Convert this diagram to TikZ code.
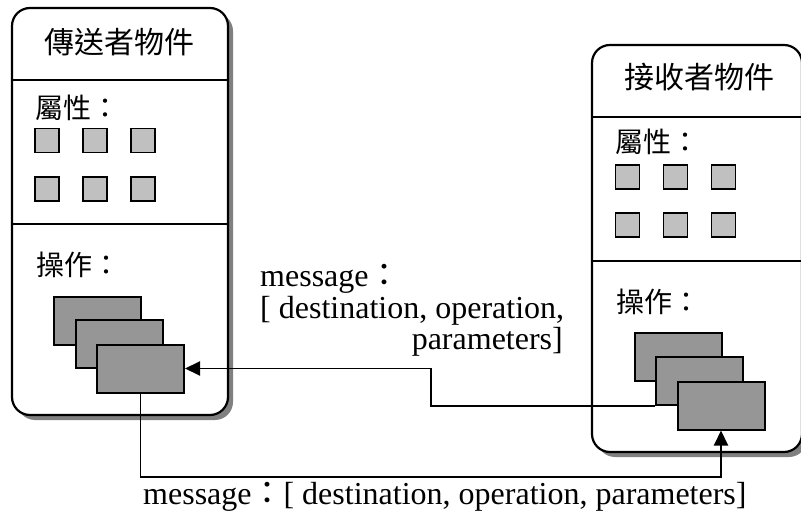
\documentclass[tikz,border=0pt]{standalone}
\usepackage{fontspec}
\setmainfont{Liberation Serif}
\newfontfamily\cjk{Noto Sans CJK TC}
\usetikzlibrary{arrows.meta,shadows}
\definecolor{attrgray}{HTML}{C0C0C0}
\definecolor{opgray}{HTML}{969696}
\definecolor{shadowgray}{HTML}{808080}
\tikzset{
  objbox/.style={draw, line width=2.2pt, rounded corners=18pt, fill=white, inner sep=0,
    general shadow={fill=shadowgray, shadow xshift=5pt, shadow yshift=-5pt}},
  divider/.style={line width=2pt},
  attr/.style={draw, line width=1.5pt, fill=attrgray, minimum size=24pt, inner sep=0},
  opbox/.style={draw, line width=2pt, fill=opgray, minimum width=87pt, minimum height=48pt, inner sep=0},
  conn/.style={line width=1.9pt, -{Triangle[length=15pt,width=14pt]}},
  lbl/.style={inner sep=0, font=\fontsize{32}{38}\selectfont},
  cjktitle/.style={inner sep=0, font=\cjk\fontsize{30}{36}\selectfont},
  cjklbl/.style={inner sep=0, font=\cjk\fontsize{28}{34}\selectfont}
}
\begin{document}
\begin{tikzpicture}[x=1pt,y=-1pt]
\useasboundingbox (0,0) rectangle (801,513);
% sender object
\node[objbox, minimum width=216pt, minimum height=407pt] (L) at (120,211.5) {};
\coordinate (dl1) at (0,80);
\coordinate (dl2) at (0,224);
\draw[divider] (L.west |- dl1) -- (L.east |- dl1);
\draw[divider] (L.west |- dl2) -- (L.east |- dl2);
\node[cjktitle] (Lt) at (120,42) {傳送者物件};
\node[cjklbl, anchor=west] (La) at (35,108) {屬性：};
\node[cjklbl, anchor=west] (Lo) at (36,265) {操作：};
\node[attr] (La1) at (47,140.5) {};
\node[attr] (La2) at (95,140.5) {};
\node[attr] (La3) at (143,140.5) {};
\node[attr] (La4) at (47,189) {};
\node[attr] (La5) at (95,189) {};
\node[attr] (La6) at (143,189) {};
\node[opbox] (lL1) at (97.5,321) {};
\node[opbox] (lL2) at (119,344) {};
\node[opbox] (lL3) at (140.5,368.5) {};
% receiver object
\node[objbox, minimum width=210pt, minimum height=407pt] (R) at (697,248.5) {};
\coordinate (dr1) at (0,117);
\coordinate (dr2) at (0,261);
\draw[divider] (R.west |- dr1) -- (R.east |- dr1);
\draw[divider] (R.west |- dr2) -- (R.east |- dr2);
\node[cjktitle] (Rt) at (699,77) {接收者物件};
\node[cjklbl, anchor=west] (Ra) at (615,142) {屬性：};
\node[cjklbl, anchor=west] (Ro) at (616,302) {操作：};
\node[attr] (Ra1) at (627.5,177) {};
\node[attr] (Ra2) at (675.5,177) {};
\node[attr] (Ra3) at (723.5,177) {};
\node[attr] (Ra4) at (627.5,225) {};
\node[attr] (Ra5) at (675.5,225) {};
\node[attr] (Ra6) at (723.5,225) {};
\node[opbox] (rR1) at (678,357) {};
\node[opbox] (rR2) at (699.5,381) {};
\node[opbox] (rR3) at (721,405.5) {};
% connectors
\coordinate (k1) at (431,386);
\coordinate (k2) at (400,477);
\draw[conn] (rR2.south west) -| (k1) |- (lL3.east);
\draw[conn] (lL3.south) |- (k2) -| (rR3.south);
% labels
\node[lbl, anchor=base west] (m1) at (260,287) {message{\cjk ：}};
\node[lbl, anchor=base west] (m2) at (260,318) {[ destination, operation,};
\node[lbl, anchor=base east] (m3) at (563,349) {parameters]};
\node[lbl, anchor=base west] (mb) at (143,504) {message{\cjk ：}[ destination, operation, parameters]};
\end{tikzpicture}
\end{document}
